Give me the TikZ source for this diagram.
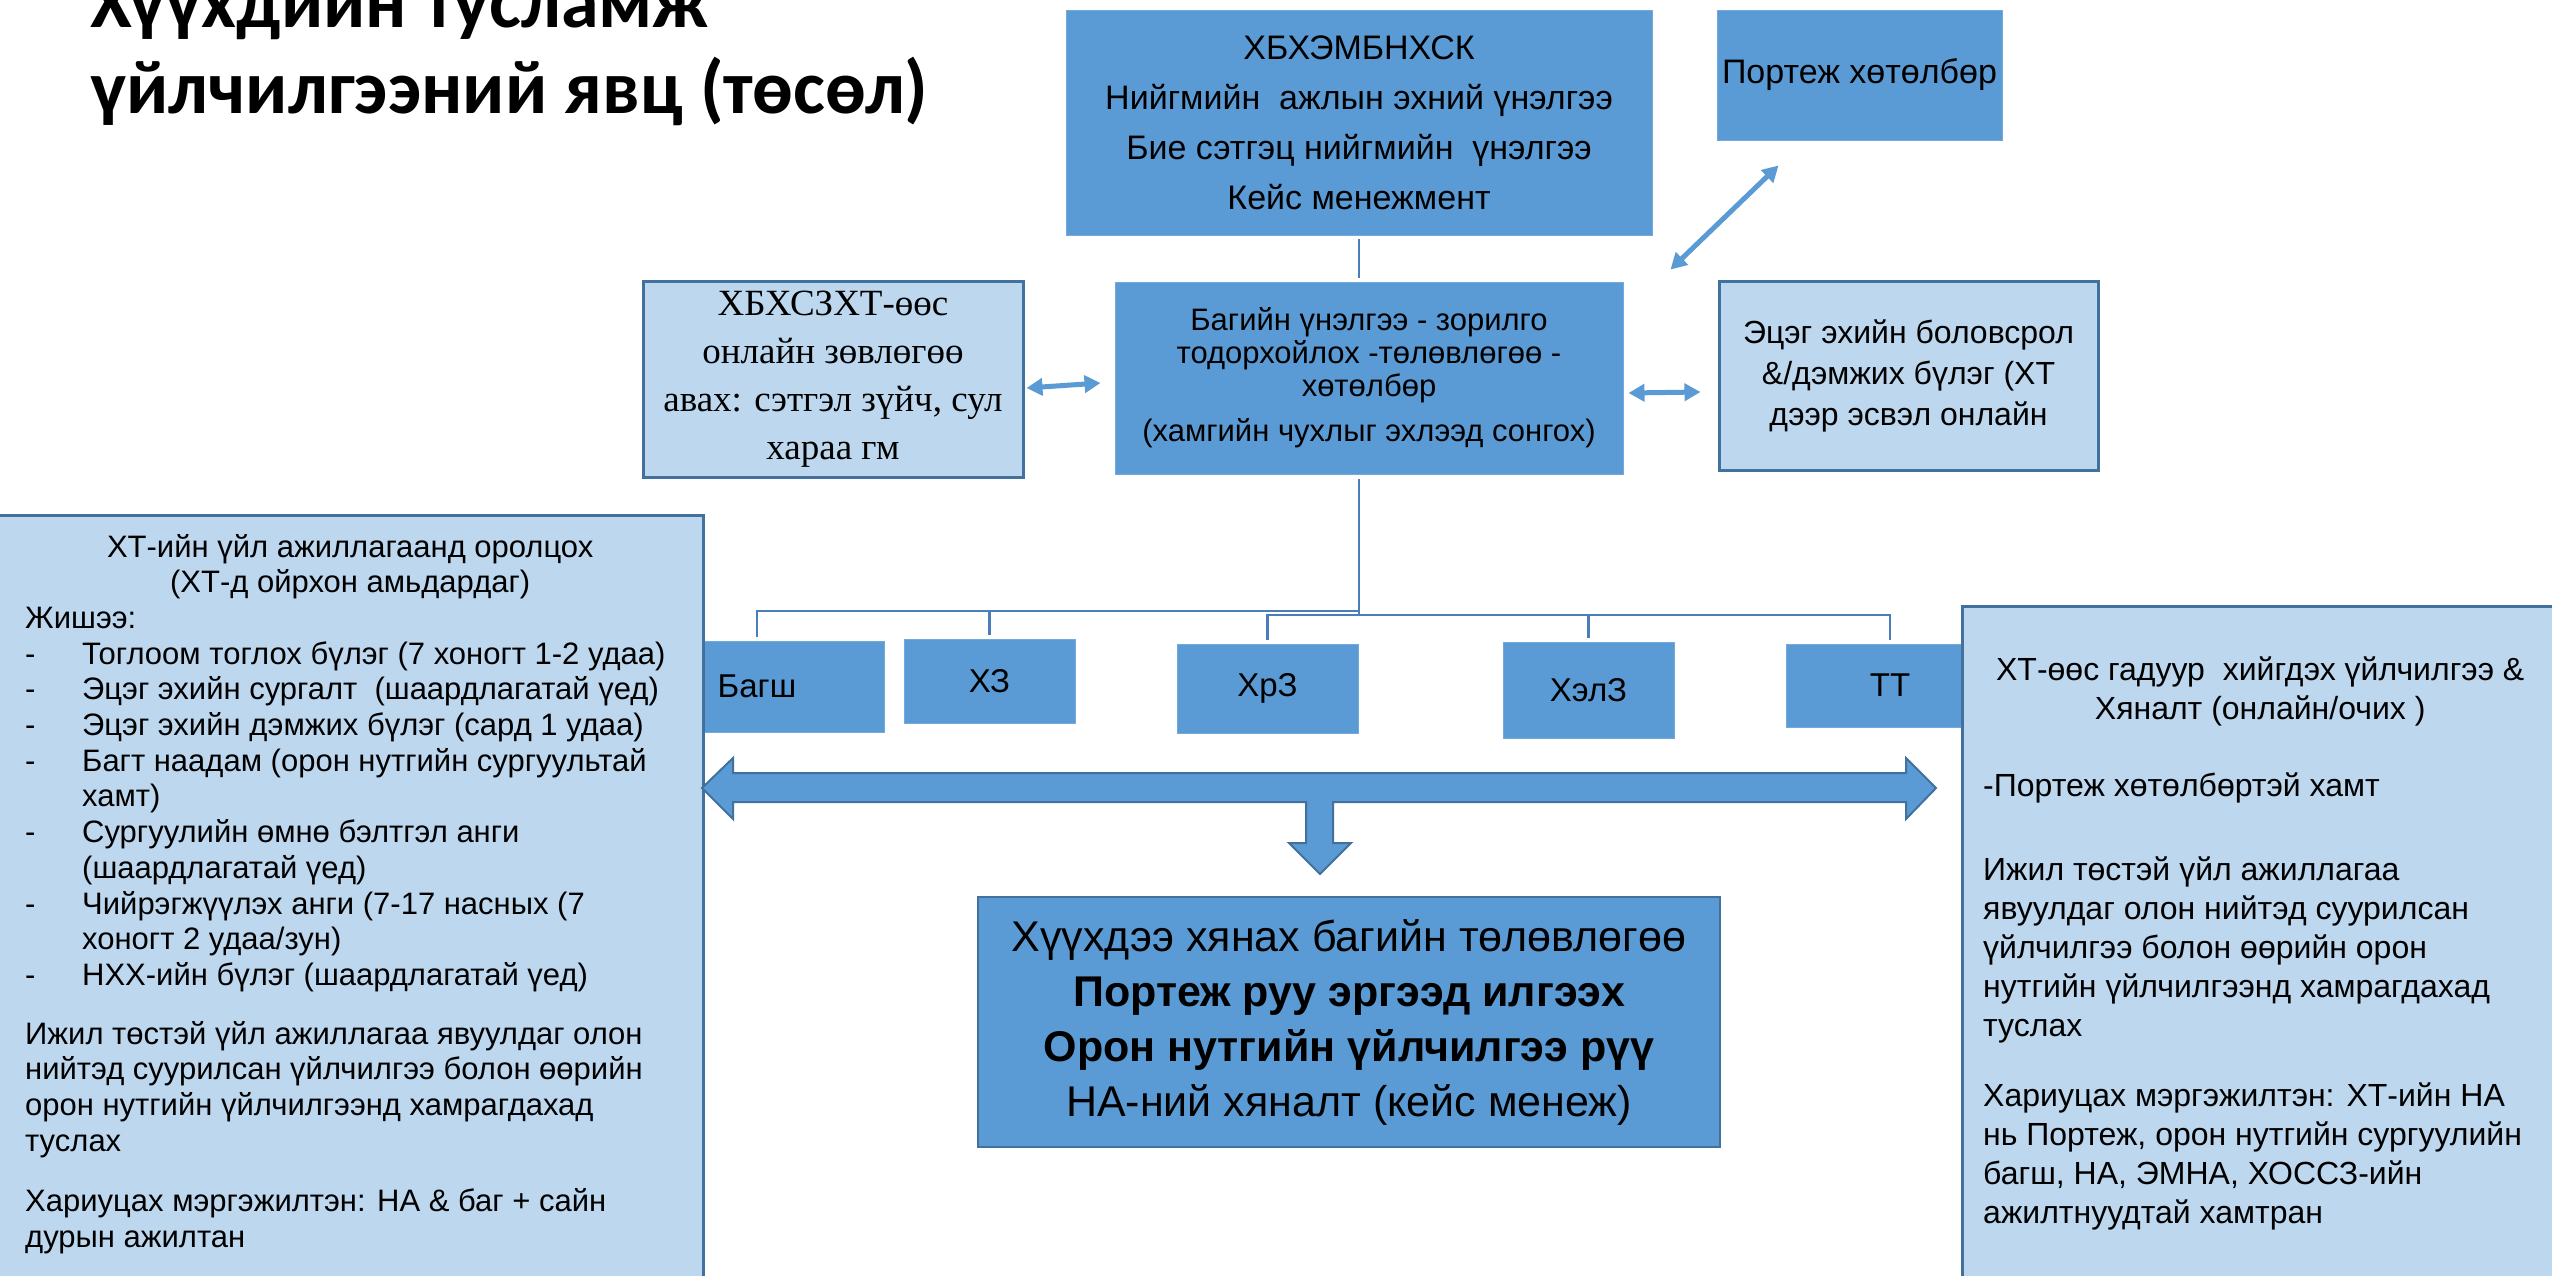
\documentclass[tikz,border=0pt]{standalone}
\usepackage{fontspec}
\setmainfont{Liberation Sans}
\newfontfamily\serifx{Liberation Serif}
\newfontfamily\titlefont{Carlito}
\usetikzlibrary{arrows.meta}
\definecolor{accent}{HTML}{5B9BD5}
\definecolor{lightacc}{HTML}{BDD7EE}
\definecolor{edge}{HTML}{41719C}
\definecolor{busline}{HTML}{4A7EBB}
\tikzset{
  darkbox/.style={fill=accent, draw=accent!85!white, line width=1pt, inner sep=0pt, align=center, text=black},
  lightbox/.style={fill=lightacc, draw=edge, line width=3pt, inner sep=0pt, align=center, text=black},
  rowbox/.style={darkbox, font={\fontsize{33}{40}\selectfont}},
  conn/.style={draw=busline, line width=2.5pt},
  dblarrow/.style={draw=accent, line width=5pt, {Triangle[length=16pt,width=17pt]}-{Triangle[length=16pt,width=17pt]}},
  blockarrow/.style={fill=accent, draw=edge, line width=2pt, line join=miter},
}
\begin{document}
\begin{tikzpicture}[x=1pt,y=-1pt]
\path[use as bounding box] (0,0) rectangle (2552,1275);
\fill[white] (0,0) rectangle (2552,1275);
\clip (0,0) rectangle (2552,1275);

% title
\node[anchor=base west, inner sep=0pt, font={\titlefont\bfseries\fontsize{76}{86}\selectfont}] (title) at (90,27)
  {\begin{tabular}[t]{@{}l@{}}Хүүхдийн тусламж\\үйлчилгээний явц (төсөл)\end{tabular}};

% top boxes
\node[darkbox, minimum width=586pt, minimum height=225pt, font={\fontsize{34}{50}\selectfont}] (top1) at (1359,122.5)
  {ХБХЭМБНХСК\\Нийгмийн\ \ ажлын эхний үнэлгээ\\Бие сэтгэц нийгмийн\ \ үнэлгээ\\Кейс менежмент};
\node[darkbox, minimum width=285pt, minimum height=130pt, font={\fontsize{34}{40}\selectfont}] (portezh) at (1859.5,75)
  {Портеж хөтөлбөр};

% middle row
\node[darkbox, minimum width=508pt, minimum height=192pt, font={\fontsize{31}{33}\selectfont}] (mid) at (1369,378)
  {Багийн үнэлгээ - зорилго\\тодорхойлох -төлөвлөгөө -\\хөтөлбөр\\[12pt](хамгийн чухлыг эхлээд сонгох)};
\node[lightbox, minimum width=380pt, minimum height=196pt, font={\serifx\fontsize{37}{48}\selectfont}] (hbx) at (833,379)
  {ХБХСЗХТ-өөс\\онлайн зөвлөгөө\\авах: сэтгэл зүйч, сул\\хараа гм};
\node[lightbox, minimum width=379pt, minimum height=189pt, font={\fontsize{32}{41}\selectfont}] (parent) at (1908.5,375.5)
  {Эцэг эхийн боловсрол\\\&/дэмжих бүлэг (ХТ\\дээр эсвэл онлайн};

% team boxes
\node[rowbox, minimum width=254pt, minimum height=91pt] (bagsh) at (757,686.5) {Багш};
\node[rowbox, minimum width=171pt, minimum height=84pt] (xz) at (989.5,681) {ХЗ};
\node[rowbox, minimum width=181pt, minimum height=89pt] (xrz) at (1267.5,688.5) {ХрЗ};
\node[rowbox, minimum width=171pt, minimum height=96pt] (xelz) at (1588.5,690) {ХэлЗ};
\node[rowbox, minimum width=208pt, minimum height=83pt] (tt) at (1890,685.5) {ТТ};

% connectors
\coordinate (j0) at (top1.south |- mid.north);
\coordinate (j1) at (top1.south |- mid.south);
\coordinate (busL) at (1359,611);
\coordinate (busR) at (1359,615);
\draw[conn] ([yshift=-3pt]top1.south) -- ([yshift=4pt]j0);
\draw[conn] ([yshift=-4pt]j1) -- (busR);
\draw[conn] (busL) -| ([yshift=4pt]bagsh.north);
\draw[conn] (xz.north |- busL) -- ([yshift=4pt]xz.north);
\draw[conn] (busR) -- (xrz.north |- busR) -- ([yshift=4pt]xrz.north);
\draw[conn] (xrz.north |- busR) -| ([yshift=4pt]tt.north);
\draw[conn] (xelz.north |- busR) -- ([yshift=4pt]xelz.north);

\coordinate (sa1) at ([xshift=2pt,yshift=-9pt]hbx.east);
\coordinate (sa2) at ([xshift=-14pt,yshift=-5pt]mid.west);
\coordinate (sb1) at ([xshift=5pt,yshift=-15pt]mid.east);
\coordinate (sb2) at ([xshift=-17pt,yshift=-16.5pt]parent.west);
\coordinate (da1) at ([xshift=47pt,yshift=12pt]mid.north east);
\coordinate (da2) at ([xshift=62pt,yshift=-25pt]portezh.south west);
\draw[dblarrow] (sa1) -- (sa2);
\draw[dblarrow] (sb1) -- (sb2);
\draw[dblarrow] (da1) -- (da2);

% big side boxes
\node[lightbox, minimum width=706pt, minimum height=800pt, anchor=north west] (leftbox) at (-4,514) {};
\node[lightbox, minimum width=620pt, minimum height=720pt, anchor=north west] (rightbox) at (1961,605) {};

\node[anchor=base west, inner sep=0pt, font={\fontsize{31}{35.7}\selectfont}] (lefttext) at (25,557)
{\begin{tabular}[t]{@{}p{57pt}@{}l@{}}
\multicolumn{2}{@{}l@{}}{\makebox[650pt]{ХТ-ийн үйл ажиллагаанд оролцох}}\\
\multicolumn{2}{@{}l@{}}{\makebox[650pt]{(ХТ-д ойрхон амьдардаг)}}\\
\multicolumn{2}{@{}l@{}}{Жишээ:}\\
-&Тоглоом тоглох бүлэг (7 хоногт 1-2 удаа)\\
-&Эцэг эхийн сургалт\ \ (шаардлагатай үед)\\
-&Эцэг эхийн дэмжих бүлэг (сард 1 удаа)\\
-&Багт наадам (орон нутгийн сургуультай\\
 &хамт)\\
-&Сургуулийн өмнө бэлтгэл анги\\
 &(шаардлагатай үед)\\
-&Чийрэгжүүлэх анги (7-17 насных (7\\
 &хоногт 2 удаа/зун)\\
-&НХХ-ийн бүлэг (шаардлагатай үед)\\[23pt]
\multicolumn{2}{@{}l@{}}{Ижил төстэй үйл ажиллагаа явуулдаг олон}\\
\multicolumn{2}{@{}l@{}}{нийтэд суурилсан үйлчилгээ болон өөрийн}\\
\multicolumn{2}{@{}l@{}}{орон нутгийн үйлчилгээнд хамрагдахад}\\
\multicolumn{2}{@{}l@{}}{туслах}\\[25pt]
\multicolumn{2}{@{}l@{}}{Хариуцах мэргэжилтэн: НА \& баг + сайн}\\
\multicolumn{2}{@{}l@{}}{дурын ажилтан}
\end{tabular}};

\node[anchor=base west, inner sep=0pt, font={\fontsize{32}{39}\selectfont}] (righttext) at (1983,680)
{\begin{tabular}[t]{@{}l@{}}
\makebox[554pt]{ХТ-өөс гадуур\ \ хийгдэх үйлчилгээ \&}\\
\makebox[554pt]{Хяналт (онлайн/очих )}\\[38pt]
-Портеж хөтөлбөртэй хамт\\[45pt]
Ижил төстэй үйл ажиллагаа\\
явуулдаг олон нийтэд суурилсан\\
үйлчилгээ болон өөрийн орон\\
нутгийн үйлчилгээнд хамрагдахад\\
туслах\\[31pt]
Хариуцах мэргэжилтэн: ХТ-ийн НА\\
нь Портеж, орон нутгийн сургуулийн\\
багш, НА, ЭМНА, ХОССЗ-ийн\\
ажилтнуудтай хамтран
\end{tabular}};

% block arrow
\path[blockarrow] (702,788) -- (733,758) -- (733,773) -- (1906,773) -- (1906,758) -- (1936,788)
  -- (1906,819) -- (1906,802) -- (1333,802) -- (1333,843) -- (1351,843) -- (1320,874)
  -- (1289,843) -- (1306,843) -- (1306,802) -- (733,802) -- (733,819) -- cycle;

% bottom box
\node[darkbox, draw=edge, line width=2pt, minimum width=742pt, minimum height=250pt, font={\fontsize{43}{55}\selectfont}] (plan) at (1349,1022)
  {Хүүхдээ хянах багийн төлөвлөгөө\\\textbf{Портеж руу эргээд илгээх}\\\textbf{Орон нутгийн үйлчилгээ рүү}\\НА-ний хяналт (кейс менеж)};
\end{tikzpicture}
\end{document}
